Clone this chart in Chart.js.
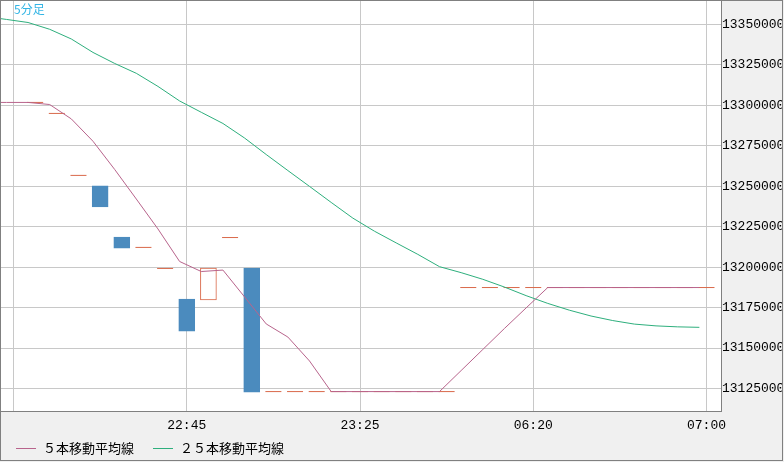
<!DOCTYPE html>
<html>
<head>
<meta charset="utf-8">
<script src="https://cdn.jsdelivr.net/npm/chart.js@4.4.1/dist/chart.umd.min.js"></script>
<style>
  body { margin: 0; background: #f0f0f0; }
  #wrap { position: relative; width: 784px; height: 462px; overflow: hidden; }
  #c { position: absolute; left: 0; top: 0; }
  #tf { position: absolute; left: 14px; top: 3px; font: 12px/12px "Noto Sans CJK JP", sans-serif; color: #33b5e5; }
  #legend { position: absolute; left: 16px; top: 440px; height: 16px; display: flex; align-items: center;
            font: 13px/16px "Noto Sans CJK JP", sans-serif; color: #000; }
  .item { display: flex; align-items: center; margin-right: 19px; }
  .swatch { width: 20px; height: 1px; margin-right: 7px; }
</style>
</head>
<body>
<div id="wrap">
  <canvas id="c" width="784" height="462"></canvas>
  <div id="tf">5分足</div>
  <div id="legend"></div>
</div>
<script>
// 5 minute candles, slot 0 = first candle
const opens = [13301800, 13295000, 13256700, 13250200, 13218600, 13212200, 13199200, 13180300,
  13179700, 13218300, 13199500, 13123100, 13123100, 13123100, 13123100, 13123100, 13123100,
  13123100, 13123100, 13123100, 13187400, 13187400, 13187400, 13187400, 13187400, 13187400,
  13187400, 13187400, 13187400, 13187400, 13187400, 13187400];
const closes = [13301800, 13295000, 13256700, 13237200, 13211800, 13212200, 13199200, 13160500,
  13199500, 13218300, 13122800, 13123100, 13123100, 13123100, 13123100, 13123100, 13123100,
  13123100, 13123100, 13123100, 13187400, 13187400, 13187400, 13187400, 13187400, 13187400,
  13187400, 13187400, 13187400, 13187400, 13187400, 13187400];

// moving averages, first value belongs to slot -2 (runs off the left edge)
const maStart = -2;
const ma5 = [13301800, 13301800, 13301800, 13300500, 13291600, 13277800, 13260400, 13242100,
  13223600, 13203500, 13197300, 13198200, 13181600, 13164900, 13156800, 13142000, 13123100,
  13123100, 13123100, 13123100, 13123100, 13123100, 13136100, 13149100, 13162100, 13174800,
  13187400, 13187400, 13187400, 13187400, 13187400, 13187400, 13187400, 13187400];
const ma25 = [13354900, 13353100, 13351200, 13347000, 13341000, 13332700, 13325900, 13319800,
  13311700, 13302700, 13295700, 13288800, 13279800, 13269600, 13259700, 13249900, 13240000,
  13230300, 13222200, 13215000, 13207900, 13200300, 13196600, 13192500, 13187700, 13182400,
  13177600, 13173400, 13169800, 13167000, 13164800, 13163700, 13163100, 13162800];

const xTickPos = [-1, 7, 15, 23, 31];
const xTickLabels = ['', '22:45', '23:25', '06:20', '07:00'];
const yTicks = [13125000, 13150000, 13175000, 13200000, 13225000, 13250000, 13275000, 13300000,
  13325000, 13350000];

const BLUE = '#4b8bbe', RED = '#d9694a';
const maShift = -0.33; // the source plots MA points a bit left of the candle centre

const bodies = [];
const doji = [];
opens.forEach((o, i) => {
  if (o === closes[i]) doji.push({x: i, y: o});
  else bodies.push({x: i, y: [o, closes[i]]});
});
const maPoints = arr => arr.map((v, i) => ({x: i + maStart + maShift, y: v}));

const frame = {
  id: 'frame',
  beforeDraw(chart) {
    const {ctx, chartArea: a} = chart;
    ctx.save();
    ctx.fillStyle = '#f0f0f0';
    ctx.fillRect(0, 0, chart.width, chart.height);
    ctx.fillStyle = '#fff';
    ctx.fillRect(a.left, a.top, a.right - a.left, a.bottom - a.top);
    ctx.restore();
  },
  afterDraw(chart) {
    const {ctx, chartArea: a} = chart;
    ctx.save();
    ctx.fillStyle = '#f0f0f0';
    ctx.fillRect(chart.width - 2, 0, 2, chart.height);
    ctx.strokeStyle = '#808080';
    ctx.lineWidth = 1;
    ctx.strokeRect(a.left + 0.5, a.top + 0.5, a.right - a.left, a.bottom - a.top);
    ctx.strokeRect(0.5, 0.5, chart.width - 2, chart.height - 2);
    ctx.restore();
  }
};

const tickFont = {family: 'Liberation Mono', size: 13};

const chart = new Chart(document.getElementById('c'), {
  type: 'line',
  data: {
    datasets: [
      {
        label: '５本移動平均線',
        data: maPoints(ma5),
        borderColor: '#b8648c',
        borderWidth: 1,
        pointRadius: 0,
        order: 0
      },
      {
        label: '２５本移動平均線',
        data: maPoints(ma25),
        borderColor: '#2eaf7d',
        borderWidth: 1,
        pointRadius: 0,
        order: 1
      },
      {
        type: 'line',
        data: doji,
        showLine: false,
        pointStyle: 'line',
        pointRadius: 8,
        pointBorderWidth: 1,
        pointBorderColor: RED,
        order: 2
      },
      {
        type: 'bar',
        data: bodies,
        barThickness: 16,
        borderWidth: 1,
        borderSkipped: false,
        backgroundColor: c => (c.raw && c.raw.y[1] > c.raw.y[0]) ? '#ffffff' : BLUE,
        borderColor: c => (c.raw && c.raw.y[1] > c.raw.y[0]) ? RED : BLUE,
        order: 3
      }
    ]
  },
  options: {
    responsive: false,
    devicePixelRatio: 1,
    animation: false,
    events: [],
    layout: {padding: 0, autoPadding: false},
    plugins: {legend: {display: false}, tooltip: {enabled: false}},
    scales: {
      x: {
        type: 'linear',
        min: -1.624,
        max: 31.67,
        offset: false,
        border: {display: false},
        grid: {color: '#c8c8c8', drawTicks: false, offset: false},
        afterBuildTicks: s => { s.ticks = xTickPos.map(v => ({value: v})); },
        afterFit: s => { s.height = 51; s.paddingLeft = 0; s.paddingRight = 0; },
        ticks: {
          autoSkip: false,
          maxRotation: 0,
          padding: 7,
          color: '#000',
          font: tickFont,
          callback: (v, i) => xTickLabels[i]
        }
      },
      y: {
        position: 'right',
        min: 13111100,
        max: 13365100,
        border: {display: false},
        grid: {color: '#c8c8c8', drawTicks: false},
        afterBuildTicks: s => { s.ticks = yTicks.map(v => ({value: v})); },
        afterFit: s => { s.width = 63; s.paddingTop = 0; s.paddingBottom = 0; },
        ticks: {
          autoSkip: false,
          padding: 1,
          color: '#000',
          font: tickFont,
          callback: v => String(v)
        }
      }
    }
  },
  plugins: [frame]
});

// legend as plain text under the plot
const legend = document.getElementById('legend');
chart.data.datasets.filter(d => d.label).forEach(d => {
  const item = document.createElement('div');
  item.className = 'item';
  const sw = document.createElement('span');
  sw.className = 'swatch';
  sw.style.background = d.borderColor;
  const t = document.createElement('span');
  t.textContent = d.label;
  item.appendChild(sw);
  item.appendChild(t);
  legend.appendChild(item);
});
</script>
</body>
</html>
